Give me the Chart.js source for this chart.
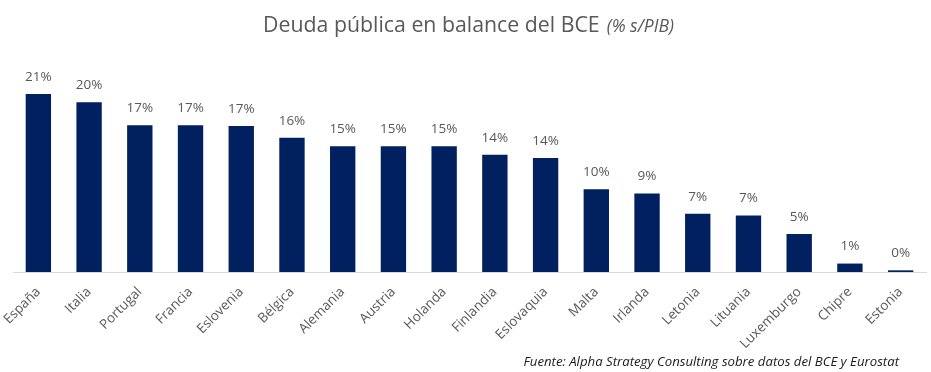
<!DOCTYPE html>
<html>
<head>
<meta charset="utf-8">
<script src="https://cdn.jsdelivr.net/npm/chart.js@4"></script>
<style>
  html, body { margin: 0; padding: 0; background: #ffffff; }
  #wrap { position: relative; width: 931px; height: 372px; }
</style>
</head>
<body>
<div id="wrap"><canvas id="c" width="931" height="372"></canvas></div>
<script>
const categories = ["España", "Italia", "Portugal", "Francia", "Eslovenia", "Bélgica", "Alemania", "Austria", "Holanda", "Finlandia", "Eslovaquia", "Malta", "Irlanda", "Letonia", "Lituania", "Luxemburgo", "Chipre", "Estonia"];
const debtValues = [21.1, 20.1, 17.4, 17.4, 17.3, 15.9, 14.9, 14.9, 14.9, 13.9, 13.5, 9.8, 9.3, 6.9, 6.7, 4.5, 1.0, 0.2];
const titleMain = "Deuda pública en balance del BCE";
const titleUnit = "(% s/PIB)";
const sourceText = "Fuente: Alpha Strategy Consulting sobre datos del BCE y Eurostat";

const textGrey = "#595959";

const overlayPlugin = {
  id: "overlay",
  afterDatasetsDraw(chart) {
    const ctx = chart.ctx;
    const meta = chart.getDatasetMeta(0);
    ctx.save();
    ctx.fillStyle = textGrey;
    ctx.font = "13.5px 'Open Sans'";
    ctx.textAlign = "center";
    ctx.textBaseline = "middle";
    meta.data.forEach((bar, i) => {
      ctx.fillText(Math.round(debtValues[i]) + "%", bar.x, bar.y - 17);
    });
    ctx.restore();
  },
  afterDraw(chart) {
    const ctx = chart.ctx;
    ctx.save();
    // title
    ctx.fillStyle = textGrey;
    ctx.textBaseline = "alphabetic";
    const fMain = "21.3px 'Open Sans'";
    const fUnit = "italic 17.5px 'Open Sans'";
    ctx.font = fMain;
    const w1 = ctx.measureText(titleMain).width;
    ctx.font = fUnit;
    const w2 = ctx.measureText(titleUnit).width;
    const gap = 7;
    const x0 = 468.5 - (w1 + gap + w2) / 2;
    ctx.textAlign = "left";
    ctx.font = fMain;
    ctx.fillText(titleMain, x0, 31.5);
    ctx.font = fUnit;
    ctx.fillText(titleUnit, x0 + w1 + gap, 31.5);
    // source
    ctx.fillStyle = "#1a1a1a";
    ctx.font = "italic 13.2px 'Open Sans'";
    ctx.textAlign = "right";
    ctx.fillText(sourceText, 899, 366);
    ctx.restore();
  }
};

new Chart(document.getElementById("c"), {
  type: "bar",
  data: {
    labels: categories,
    datasets: [{
      data: debtValues,
      backgroundColor: "#002060",
      borderWidth: 0,
      barPercentage: 0.5,
      categoryPercentage: 1.0
    }]
  },
  options: {
    responsive: false,
    animation: false,
    devicePixelRatio: 1,
    layout: { padding: { left: 13, right: 5, top: 61, bottom: 0 } },
    plugins: {
      legend: { display: false },
      title: { display: false },
      tooltip: { enabled: false }
    },
    scales: {
      x: {
        grid: { display: false, drawTicks: false },
        border: { display: true, color: "#d9d9d9", width: 1 },
        ticks: {
          color: textGrey,
          font: { family: "'Open Sans'", size: 13.5 },
          minRotation: 45,
          maxRotation: 45,
          autoSkip: false,
          padding: 12
        },
        afterFit(scale) {
          scale.height = 100;
          scale.paddingLeft = 0;
          scale.paddingRight = 0;
        }
      },
      y: {
        display: false,
        min: 0,
        max: 25
      }
    }
  },
  plugins: [overlayPlugin]
});
</script>
</body>
</html>
